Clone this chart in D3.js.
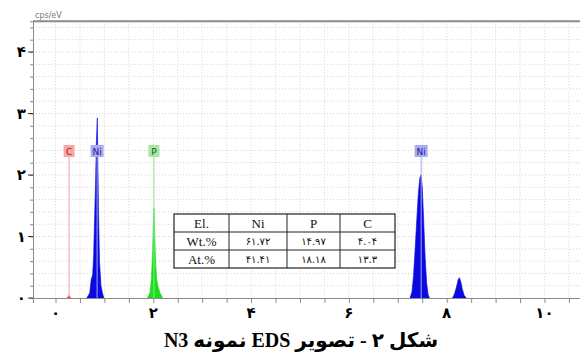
<!DOCTYPE html>
<html>
<head>
<meta charset="utf-8">
<script src="https://cdn.jsdelivr.net/npm/d3@7"></script>
<style>
  body { margin: 0; background: #fff; }
  svg { display: block; }
</style>
</head>
<body>
<svg width="580" height="352"></svg>
<script>
// spectrum profiles [keV, cps/eV]
const cPeak = [[0.24, 0], [0.277, 0.04], [0.31, 0]];
const niLPeak = [[0.64, 0], [0.70, 0.08], [0.73, 0.3], [0.76, 0.38], [0.78, 0.7], [0.80, 1.3], [0.82, 1.9],
  [0.835, 2.5], [0.855, 2.93], [0.865, 2.3], [0.88, 1.4], [0.90, 0.6], [0.93, 0.2], [0.96, 0.08], [0.99, 0]];
const pPeak = [[1.88, 0], [1.93, 0.08], [1.96, 0.3], [1.985, 0.75], [2.0, 1.2], [2.015, 1.46], [2.03, 1.0],
  [2.05, 0.55], [2.07, 0.3], [2.10, 0.18], [2.14, 0.08], [2.19, 0]];
const niKaPeak = [[7.25, 0], [7.29, 0.1], [7.32, 0.35], [7.355, 0.8], [7.39, 1.3], [7.42, 1.7], [7.45, 1.95],
  [7.475, 2.0], [7.50, 1.8], [7.53, 1.25], [7.56, 0.65], [7.59, 0.25], [7.62, 0.06], [7.645, 0]];
const niKbPeak = [[8.12, 0], [8.16, 0.07], [8.20, 0.18], [8.235, 0.3], [8.26, 0.33], [8.29, 0.26], [8.32, 0.14],
  [8.36, 0.04], [8.40, 0]];

// element markers
const markerNames = ["C", "Ni", "P", "Ni"];
const markerEnergies = [0.277, 0.851, 2.013, 7.478];

// composition table
const tableHead = ["El.", "Ni", "P", "C"];
const rowNames = ["Wt.%", "At.%"];
const wtValues = ["61.72", "14.97", "4.04"];
const atValues = ["41.41", "18.18", "13.3"];

const xTickLabels = [0, 2, 4, 6, 8, 10];
const yTickLabels = [0, 1, 2, 3, 4];

const fa = s => String(s).replace(/\d/g, d => "۰۱۲۳۴۵۶۷۸۹"[d]);

const svg = d3.select("svg");
const width = +svg.attr("width");

const x = d3.scaleLinear().domain([-0.46, 10.726]).range([33, width]);
const y = d3.scaleLinear().domain([0, 4.5]).range([298, 21.25]);

// grid
const gx = d3.range(0, 10.75, 0.5);
const gy = d3.range(0.2, 4.5, 0.2);
svg.append("g").selectAll("line").data(gx).join("line")
    .attr("x1", d => x(d)).attr("x2", d => x(d))
    .attr("y1", y(4.5)).attr("y2", y(0))
    .attr("stroke", "#d4d4d4").attr("stroke-dasharray", "1,2");
svg.append("g").selectAll("line").data(gy).join("line")
    .attr("x1", x.range()[0]).attr("x2", width)
    .attr("y1", d => y(d)).attr("y2", d => y(d))
    .attr("stroke", "#d4d4d4").attr("stroke-dasharray", "1,2");

// peaks
const area = d3.area().x(d => x(d[0])).y0(y(0)).y1(d => y(d[1]));
[[cPeak, "#e01818"], [niLPeak, "#0a0ae0"], [pPeak, "#18e018"], [niKaPeak, "#0a0ae0"], [niKbPeak, "#0a0ae0"]]
  .forEach(([p, c]) => {
    svg.append("path").datum(p).attr("d", area).attr("fill", c).attr("stroke", c).attr("stroke-width", 0.6);
  });

// marker lines + labels
const markerStyle = {
  C: { line: "#f0a0a0", box: "#f6a8a8", text: "#b01010" },
  Ni: { line: "#a8a8f4", box: "#aaaaf2", text: "#1a1a90" },
  P: { line: "#98e098", box: "#a6e6a6", text: "#106010" }
};
const labelY = y(2.39);
const mk = svg.append("g");
markerNames.forEach((n, i) => {
  const st = markerStyle[n];
  const cx = x(markerEnergies[i]);
  mk.append("line").attr("x1", cx).attr("x2", cx).attr("y1", labelY + 6).attr("y2", y(0))
      .attr("stroke", st.line).attr("stroke-width", 1);
  const w = n.length > 1 ? 13 : 11;
  mk.append("rect").attr("x", cx - w / 2).attr("y", labelY - 6).attr("width", w).attr("height", 12)
      .attr("fill", st.box);
  mk.append("text").attr("x", cx).attr("y", labelY + 3.5)
      .attr("text-anchor", "middle").attr("font-family", "DejaVu Sans").attr("font-size", 9)
      .attr("fill", st.text).text(n);
});

// axes
const axisColor = "#8a8a8a";
svg.append("line").attr("x1", x.range()[0]).attr("x2", width).attr("y1", y(4.5)).attr("y2", y(4.5))
    .attr("stroke", axisColor).attr("stroke-width", 2);

const xAxis = svg.append("g").attr("transform", `translate(0,${y(0)})`)
    .call(d3.axisBottom(x).tickValues(d3.range(0, 10.75, 0.5)).tickSize(5).tickFormat(""));
xAxis.select(".domain").attr("stroke", axisColor);
xAxis.selectAll(".tick line").attr("stroke", axisColor);
xAxis.selectAll(".lbl").data(xTickLabels).join("text")
    .attr("x", d => x(d)).attr("y", 20)
    .attr("text-anchor", "middle").attr("font-family", "DejaVu Sans").attr("font-weight", "bold")
    .attr("font-size", 15).attr("fill", "#000").text(d => fa(d));

const yAxis = svg.append("g").attr("transform", `translate(${x.range()[0]},0)`)
    .call(d3.axisLeft(y).tickValues(d3.range(0, 4.45, 0.2)).tickSize(3).tickFormat(""));
yAxis.select(".domain").attr("stroke", axisColor);
yAxis.selectAll(".tick line").attr("stroke", axisColor);
yAxis.selectAll(".lbl").data(yTickLabels).join("text")
    .attr("x", -7).attr("y", d => y(d)).attr("dy", "0.35em")
    .attr("text-anchor", "end").attr("font-family", "DejaVu Sans").attr("font-weight", "bold")
    .attr("font-size", 15).attr("fill", "#000").text(d => fa(d));
yAxis.selectAll(".maj").data(yTickLabels).join("line")
    .attr("x1", -5).attr("x2", 0).attr("y1", d => y(d)).attr("y2", d => y(d))
    .attr("stroke", "#333");

svg.append("text").attr("x", 35).attr("y", 18)
    .attr("font-family", "DejaVu Sans").attr("font-size", 8).attr("fill", "#777").text("cps/eV");

// table
const colEdges = [174, 229, 287, 340, 395];
const rowEdges = [214, 232, 250, 268];
const rows = [tableHead, [rowNames[0], ...wtValues.map(fa)], [rowNames[1], ...atValues.map(fa)]];
const tb = svg.append("g");
tb.append("rect").attr("x", colEdges[0]).attr("y", rowEdges[0])
    .attr("width", colEdges[4] - colEdges[0]).attr("height", rowEdges[3] - rowEdges[0])
    .attr("fill", "#fff").attr("stroke", "#222").attr("stroke-width", 1.2);
colEdges.slice(1, 4).forEach(c => tb.append("line").attr("x1", c).attr("x2", c)
    .attr("y1", rowEdges[0]).attr("y2", rowEdges[3]).attr("stroke", "#222"));
rowEdges.slice(1, 3).forEach(r => tb.append("line").attr("x1", colEdges[0]).attr("x2", colEdges[4])
    .attr("y1", r).attr("y2", r).attr("stroke", "#222"));
rows.forEach((row, ri) => row.forEach((t, ci) => {
  const isNum = ri > 0 && ci > 0;
  tb.append("text")
      .attr("x", (colEdges[ci] + colEdges[ci + 1]) / 2)
      .attr("y", (rowEdges[ri] + rowEdges[ri + 1]) / 2)
      .attr("dy", "0.35em").attr("text-anchor", "middle")
      .attr("font-family", isNum ? "DejaVu Sans" : "Liberation Serif")
      .attr("font-size", isNum ? 10 : 13).attr("fill", "#111").text(t);
}));

// caption
svg.append("text").attr("x", 301).attr("y", 347)
    .attr("text-anchor", "middle").attr("direction", "rtl")
    .attr("font-family", "Liberation Serif, DejaVu Sans").attr("font-weight", "bold")
    .attr("font-size", 20).attr("fill", "#000")
    .text("شکل ۲ - تصویر EDS نمونه N3");
</script>
</body>
</html>
